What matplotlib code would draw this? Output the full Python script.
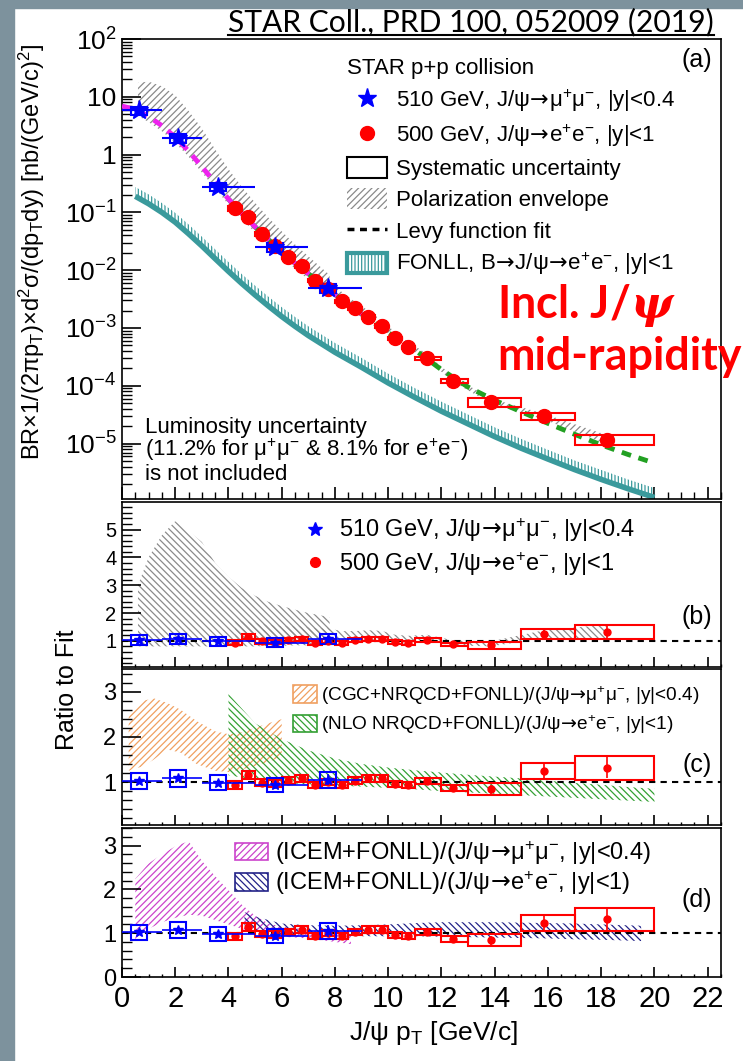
import numpy as np
import matplotlib
matplotlib.use('Agg')
import matplotlib.pyplot as plt
from matplotlib.patches import Patch, Rectangle
from matplotlib.lines import Line2D
from matplotlib.ticker import FixedLocator, FuncFormatter, MultipleLocator, LogLocator, NullFormatter

plt.rcParams['font.family'] = ['Liberation Sans', 'DejaVu Sans']
plt.rcParams['mathtext.fontset'] = 'custom'
plt.rcParams['mathtext.rm'] = 'Liberation Sans'
plt.rcParams['mathtext.it'] = 'Liberation Sans:italic'
plt.rcParams['mathtext.bf'] = 'Liberation Sans:bold'
plt.rcParams['mathtext.sf'] = 'DejaVu Sans'
try:
    plt.rcParams['mathtext.bfit'] = 'DejaVu Serif:italic:bold'
except Exception:
    pass
plt.rcParams['hatch.linewidth'] = 0.9

# ---------------- data ----------------
# Levy fit
fit_pt = [0, 0.5, 1, 1.5, 2, 2.5, 3, 3.5, 4, 4.5, 5, 5.5, 6, 6.5, 7, 7.5, 8, 8.5, 9, 9.5,
          10, 10.5, 11, 11.5, 12, 13, 14, 15, 16, 17, 18, 19, 20]
fit_val = [6.92, 6.03, 4.57, 3.16, 2.0, 1.15, 0.617, 0.324, 0.17, 0.0955, 0.0562, 0.0339,
           0.0209, 0.0132, 0.0087, 0.00575, 0.0038, 0.00257, 0.00174, 0.0012, 8.3e-4, 5.9e-4,
           4.17e-4, 2.82e-4, 1.9e-4, 9.5e-5, 5.6e-5, 3.55e-5, 2.24e-5, 1.45e-5, 9.5e-6, 6.5e-6, 4.6e-6]

# FONLL B -> J/psi band
fonll_pt = [0.5, 1, 1.5, 2, 2.5, 3, 3.5, 4, 4.5, 5, 5.5, 6, 6.5, 7, 8, 9, 10, 11, 12, 13, 14,
            15, 16, 17, 18, 19, 20]
fonll_lo = [0.19, 0.141, 0.1, 0.0676, 0.0427, 0.0263, 0.0158, 0.00955, 0.00589, 0.00372, 0.0024,
            0.00158, 0.00107, 7.4e-4, 3.8e-4, 2.09e-4, 1.12e-4, 6.3e-5, 3.63e-5, 2.19e-5, 1.32e-5,
            8.3e-6, 5.4e-6, 3.55e-6, 2.4e-6, 1.66e-6, 1.17e-6]
fonll_hi = [0.275, 0.205, 0.145, 0.098, 0.062, 0.038, 0.0229, 0.01385, 0.00854, 0.0054, 0.00348,
            0.00229, 0.00155, 1.07e-3, 5.5e-4, 3.03e-4, 1.62e-4, 9.1e-5, 5.3e-5, 3.18e-5, 1.91e-5,
            1.2e-5, 7.8e-6, 5.1e-6, 3.5e-6, 2.4e-6, 1.7e-6]

# 510 GeV mu+mu- points
blue_x = [0.65, 2.1, 3.6, 5.75, 7.75]
blue_xlo = [0, 1.5, 3, 5, 7]
blue_xhi = [1.5, 3, 5, 7, 9]
blue_val = [5.8, 1.92, 0.28, 0.025, 0.0049]
blue_stat = [0.05, 0.05, 0.07, 0.10, 0.12]
blue_sys = [0.17, 0.17, 0.17, 0.17, 0.17]
blue_ratio = [1.02, 1.08, 0.98, 0.93, 1.05]

# 500 GeV e+e- points
red_xlo = [4, 4.5, 5, 5.5, 6, 6.5, 7, 7.5, 8, 8.5, 9, 9.5, 10, 10.5, 11, 12, 13, 15, 17]
red_xhi = [4.5, 5, 5.5, 6, 6.5, 7, 7.5, 8, 8.5, 9, 9.5, 10, 10.5, 11, 12, 13, 15, 17, 20]
red_x = [4.25, 4.75, 5.25, 5.75, 6.25, 6.75, 7.25, 7.75, 8.25, 8.75, 9.25, 9.75, 10.25, 10.75,
         11.45, 12.45, 13.85, 15.85, 18.2]
red_val = [0.118, 0.0843, 0.0428, 0.0258, 0.0171, 0.0116, 0.0066, 0.00468, 0.0029, 0.00218,
           0.00156, 0.00108, 6.65e-4, 4.6e-4, 2.98e-4, 1.22e-4, 5.2e-5, 2.95e-5, 1.17e-5]
red_stat = [0.03, 0.03, 0.03, 0.03, 0.03, 0.03, 0.04, 0.04, 0.04, 0.05, 0.05, 0.06, 0.06, 0.07,
            0.07, 0.09, 0.12, 0.15, 0.18]
red_sys = [0.09, 0.08, 0.08, 0.08, 0.07, 0.07, 0.07, 0.07, 0.07, 0.07, 0.07, 0.07, 0.07, 0.07,
           0.065, 0.08, 0.16, 0.145, 0.20]
red_ratio = [0.93, 1.15, 0.98, 0.97, 1.03, 1.08, 0.93, 1.0, 0.93, 1.03, 1.08, 1.08, 0.95, 0.93,
             1.02, 0.87, 0.84, 1.24, 1.32]

# polarization envelope (panel a)
pol_mu_pt = [0.6, 1, 1.5, 2, 2.5, 3, 3.5, 4, 4.5, 5, 5.5, 6, 6.5, 7, 7.8]
pol_mu_hi = [17.5, 18.3, 15.2, 10.6, 5.7, 2.84, 1.23, 0.561, 0.277, 0.147, 0.081, 0.047, 0.0279,
             0.0174, 0.00826]
pol_mu_lo = [4.67, 3.66, 2.53, 1.6, 0.92, 0.49, 0.26, 0.136, 0.0764, 0.045, 0.0271, 0.0167,
             0.0106, 0.00696, 0.00358]
pol_e_pt = [4.25, 4.75, 5.25, 5.75, 6.25, 6.75, 7.25, 7.75, 8.25, 8.75, 9.25, 9.75, 10.25, 10.75,
            11.45, 12.45, 13.85, 15.85, 18.2]
pol_e_hi = [0.230, 0.127, 0.0706, 0.0412, 0.0252, 0.0163, 0.01026, 0.00678, 0.00422, 0.00285,
            0.0020, 0.00136, 8.53e-4, 5.85e-4, 3.56e-4, 1.43e-4, 6.04e-5, 3.28e-5, 1.41e-5]
pol_e_lo = [0.120, 0.0759, 0.042, 0.0245, 0.0161, 0.0107, 0.00637, 0.00444, 0.00281, 0.00205,
            0.00145, 0.001, 6.44e-4, 4.46e-4, 2.86e-4, 1.17e-4, 4.93e-5, 2.61e-5, 9.8e-6]

# polarization envelope as ratio (panel b)
rpol_mu_hi = [3.0, 4.0, 4.8, 5.3, 4.95, 4.55, 3.8, 3.3, 2.9, 2.62, 2.4, 2.25, 2.12, 2.0, 1.85]
rpol_mu_lo = [0.8, 0.8, 0.8, 0.8, 0.8, 0.8, 0.8, 0.8, 0.8, 0.8, 0.82, 0.82, 0.84, 0.84, 0.85]
rpol_e_hi = [1.72, 1.68, 1.6, 1.55, 1.52, 1.52, 1.45, 1.45, 1.35, 1.35, 1.38, 1.36, 1.22, 1.18,
             1.22, 1.02, 0.98, 1.38, 1.58]
rpol_e_lo = [0.9, 1.0, 0.95, 0.92, 0.97, 1.0, 0.9, 0.95, 0.9, 0.97, 1.0, 1.0, 0.92, 0.9, 0.98,
             0.84, 0.8, 1.1, 1.1]

# panel c models
cgc_pt = [0.25, 0.5, 0.8, 1.2, 1.7, 2.2, 2.8, 3.5, 4.0, 4.5, 5.0, 5.5, 6.0]
cgc_hi = [2.47, 2.65, 2.8, 2.85, 2.75, 2.6, 2.35, 2.12, 2.06, 2.1, 2.2, 2.3, 2.39]
cgc_lo = [1.25, 1.3, 1.35, 1.5, 1.72, 1.65, 1.4, 1.25, 1.22, 1.28, 1.35, 1.45, 1.55]
nlo_pt = [4.0, 5, 6, 7, 8, 9, 10, 11, 12, 13, 14, 15, 16, 17, 18, 19, 20]
nlo_hi = [2.95, 2.3, 1.95, 1.7, 1.52, 1.4, 1.32, 1.26, 1.21, 1.16, 1.12, 1.08, 1.03, 0.98, 0.94,
          0.89, 0.85]
nlo_lo = [1.15, 1.05, 0.98, 0.95, 0.92, 0.9, 0.87, 0.84, 0.8, 0.77, 0.74, 0.71, 0.68, 0.65, 0.62,
          0.59, 0.56]

# panel d models
icem_mu_pt = [0.5, 1.0, 1.5, 2.0, 2.5, 3.0, 3.5, 4.0, 4.5, 5.0, 5.5, 6.0, 7.0, 8.0, 8.6]
icem_mu_hi = [2.24, 2.59, 2.8, 2.98, 3.1, 2.65, 2.3, 1.98, 1.65, 1.4, 1.22, 1.15, 1.08, 1.02, 1.0]
icem_mu_lo = [0.85, 1.1, 1.25, 1.35, 1.42, 1.4, 1.3, 1.2, 1.1, 1.0, 0.95, 0.92, 0.88, 0.8, 0.75]
icem_e_pt = [4.6, 5, 6, 7, 8, 9, 10, 11, 12, 13, 14, 15, 16, 17, 18, 19, 19.5]
icem_e_hi = [1.48, 1.38, 1.22, 1.18, 1.17, 1.18, 1.2, 1.23, 1.25, 1.25, 1.25, 1.24, 1.23, 1.22,
             1.2, 1.18, 1.17]
icem_e_lo = [1.12, 1.05, 0.98, 0.95, 0.94, 0.93, 0.93, 0.93, 0.92, 0.91, 0.9, 0.89, 0.88, 0.86,
             0.85, 0.83, 0.82]

x_ticks = [0, 2, 4, 6, 8, 10, 12, 14, 16, 18, 20, 22]

# ---------------- styles ----------------
BLUE = '#0000ff'
RED = '#ff0000'
TEAL = '#3a9a9c'
GREY = '#8a8a8a'
MAG = '#ee22ee'
GREEN = '#22a022'
ORANGE = '#f0a060'
HGREEN = '#33a033'
HMAG = '#cc44cc'
NAVY = '#222288'
ARR = r'$\!\mathsf{\rightarrow}\!$'

W, H = 743, 1061
fig = plt.figure(figsize=(W / 100, H / 100), dpi=100)
fig.patches.append(Rectangle((0, 0), 14 / W, 1, transform=fig.transFigure,
                             color='#7d929d', zorder=-10))
fig.patches.append(Rectangle((0, 1 - 8 / H), 1, 8 / H, transform=fig.transFigure,
                             color='#7d929d', zorder=-10))


def rect(l, t, r, b):
    return [l / W, 1 - b / H, (r - l) / W, (b - t) / H]


axA = fig.add_axes(rect(122, 39, 721, 499))
axB = fig.add_axes(rect(122, 502, 721, 667))
axC = fig.add_axes(rect(122, 669, 721, 825))
axD = fig.add_axes(rect(122, 828, 721, 977))

a = lambda v: np.asarray(v, dtype=float)

# ---------------- panel a ----------------
axA.set_yscale('log')
axA.fill_between(pol_mu_pt, pol_mu_lo, pol_mu_hi, facecolor='none', edgecolor=GREY,
                 hatch='/////', lw=0, zorder=1)
axA.fill_between(pol_e_pt, pol_e_lo, pol_e_hi, facecolor='none', edgecolor=GREY,
                 hatch='/////', lw=0, zorder=1)
axA.fill_between(fonll_pt, fonll_lo, fonll_hi, facecolor='none', edgecolor=TEAL,
                 hatch='|||||', lw=0, zorder=2)
axA.plot(fonll_pt, fonll_lo, color=TEAL, lw=4, zorder=2, solid_capstyle='butt')

fp = a(fit_pt)
fv = a(fit_val)
axA.plot(fp[fp >= 4], fv[fp >= 4], color=GREEN, lw=3.5, ls=(0, (2.0, 1.6)), zorder=3)
axA.plot(fp[fp <= 9], fv[fp <= 9], color=MAG, lw=3.5, ls=(0, (2.0, 1.6)), zorder=3.5)

rv, rs = a(red_val), a(red_sys)
axA.bar(red_xlo, 2 * rv * rs, bottom=rv * (1 - rs), width=a(red_xhi) - a(red_xlo),
        align='edge', fill=False, edgecolor=RED, lw=1.5, zorder=4)
bv, bs = a(blue_val), a(blue_sys)
axA.bar(blue_x, 2 * bv * bs, bottom=bv * (1 - bs), width=0.6, align='center',
        fill=False, edgecolor=BLUE, lw=1.5, zorder=4)
axA.errorbar(red_x, red_val, yerr=rv * a(red_stat), fmt='o', color=RED, ms=10, lw=1.5,
             capsize=0, zorder=5)
bx = a(blue_x)
axA.errorbar(blue_x, blue_val, xerr=[bx - a(blue_xlo), a(blue_xhi) - bx], yerr=bv * a(blue_stat),
             fmt='*', color=BLUE, ms=14, lw=1.5, capsize=0, zorder=6)

axA.set_xlim(0, 22.5)
axA.set_ylim(1.1e-6, 100)


def logfmt(v, pos):
    e = int(round(np.log10(v)))
    if e == 0:
        return '1'
    if e == 1:
        return '10'
    return r'$10^{%d}$' % e


axA.yaxis.set_major_locator(LogLocator(base=10, numticks=20))
axA.yaxis.set_minor_locator(LogLocator(base=10, subs=np.arange(2, 10), numticks=20))
axA.yaxis.set_major_formatter(FuncFormatter(logfmt))
axA.yaxis.set_minor_formatter(NullFormatter())
axA.tick_params(axis='y', which='major', direction='in', length=14, width=1.2, labelsize=19, pad=4)
axA.tick_params(axis='y', which='minor', direction='in', length=7, width=1.0)

handles = [Line2D([], [], marker='*', ls='none', color=BLUE, ms=14),
           Line2D([], [], marker='o', ls='none', color=RED, ms=10),
           Patch(facecolor='none', edgecolor='black', lw=1.5),
           Patch(facecolor='none', edgecolor=GREY, hatch='/////', lw=0),
           Line2D([], [], color='black', lw=2.5, ls=(0, (2.0, 1.6))),
           Patch(facecolor='none', edgecolor=TEAL, hatch='|||||', lw=3)]
labels = [r'510 GeV, J/ψ' + ARR + r'μ$^{+}$μ$^{-}$, |y|<0.4',
          r'500 GeV, J/ψ' + ARR + r'e$^{+}$e$^{-}$, |y|<1',
          'Systematic uncertainty',
          'Polarization envelope',
          'Levy function fit',
          r'FONLL, B' + ARR + r'J/ψ' + ARR + r'e$^{+}$e$^{-}$, |y|<1']
legA = axA.legend(handles, labels, loc='upper left', bbox_to_anchor=(0.3756, 0.959),
                  frameon=False, fontsize=16, title='STAR p+p collision', title_fontsize=16,
                  alignment='left', handlelength=1.8, handleheight=1.04, handletextpad=0.4,
                  labelspacing=0.38, borderpad=0, borderaxespad=0)

axA.text(0.96, 0.955, '(a)', transform=axA.transAxes, fontsize=18, ha='center', va='center')
axA.text((145 - 122) / 599, (499 - 433) / 460, 'Luminosity uncertainty', transform=axA.transAxes,
         fontsize=16, ha='left', va='baseline')
axA.text((145 - 122) / 599, (499 - 456) / 460, r'(11.2% for μ$^{+}$μ$^{-}$ & 8.1% for e$^{+}$e$^{-}$)',
         transform=axA.transAxes, fontsize=16, ha='left', va='baseline')
axA.text((145 - 122) / 599, (499 - 480) / 460, 'is not included', transform=axA.transAxes,
         fontsize=16, ha='left', va='baseline')

# ---------------- ratio panels ----------------
rr = a(red_ratio)
br = a(blue_ratio)


def ratio_points(ax, ms_star=7, ms_circ=5):
    ax.bar(red_xlo, 2 * rr * rs, bottom=rr * (1 - rs), width=a(red_xhi) - a(red_xlo),
           align='edge', fill=False, edgecolor=RED, lw=1.5, zorder=4)
    ax.bar(blue_x, 2 * br * bs, bottom=br * (1 - bs), width=0.6, align='center',
           fill=False, edgecolor=BLUE, lw=1.5, zorder=4)
    ax.errorbar(red_x, red_ratio, yerr=rr * a(red_stat), fmt='o', color=RED, ms=ms_circ, lw=1.2,
                capsize=0, zorder=5)
    ax.errorbar(blue_x, blue_ratio, xerr=[bx - a(blue_xlo), a(blue_xhi) - bx],
                yerr=br * a(blue_stat), fmt='*', color=BLUE, ms=ms_star, lw=1.2, capsize=0, zorder=6)
    ax.axhline(1, color='black', lw=1.5, ls=(0, (3, 2.5)), zorder=3)


# panel b
axB.fill_between(pol_mu_pt, rpol_mu_lo, rpol_mu_hi, facecolor='none', edgecolor=GREY,
                 hatch='\\' * 5, lw=0, zorder=1)
axB.fill_between(pol_e_pt, rpol_e_lo, rpol_e_hi, facecolor='none', edgecolor=GREY,
                 hatch='\\' * 5, lw=0, zorder=1)
ratio_points(axB)
axB.set_ylim(0.06, 5.99)
axB.yaxis.set_major_locator(FixedLocator([1, 2, 3, 4, 5]))
legB = axB.legend([Line2D([], [], marker='*', ls='none', color=BLUE, ms=10),
                   Line2D([], [], marker='o', ls='none', color=RED, ms=7)],
                  [r'510 GeV, J/ψ' + ARR + r'μ$^{+}$μ$^{-}$, |y|<0.4',
                   r'500 GeV, J/ψ' + ARR + r'e$^{+}$e$^{-}$, |y|<1'],
                  loc='upper left', bbox_to_anchor=(0.302, 0.915), frameon=False, fontsize=17,
                  handlelength=1.0, handletextpad=0.55, labelspacing=0.25, borderpad=0,
                  borderaxespad=0)
axB.text(0.96, (667 - 617) / 165, '(b)', transform=axB.transAxes, fontsize=18, ha='center',
         va='center')

# panel c
axC.fill_between(cgc_pt, cgc_lo, cgc_hi, facecolor='none', edgecolor=ORANGE,
                 hatch='/////', lw=0, zorder=1)
axC.fill_between(nlo_pt, nlo_lo, nlo_hi, facecolor='none', edgecolor=HGREEN,
                 hatch='\\' * 5, lw=0, zorder=1)
ratio_points(axC)
axC.set_ylim(0.05, 3.5)
axC.yaxis.set_major_locator(FixedLocator([1, 2, 3]))
axC.legend([Patch(facecolor='none', edgecolor=ORANGE, hatch='/////', lw=1.2),
            Patch(facecolor='none', edgecolor=HGREEN, hatch='\\' * 5, lw=1.2)],
           [r'(CGC+NRQCD+FONLL)/(J/ψ' + ARR + r'μ$^{+}$μ$^{-}$, |y|<0.4)',
            r'(NLO NRQCD+FONLL)/(J/ψ' + ARR + r'e$^{+}$e$^{-}$, |y|<1)'],
           loc='upper left', bbox_to_anchor=(0.2855, 0.904), frameon=False, fontsize=13.7,
           handlelength=1.26, handleheight=1.05, handletextpad=0.2, labelspacing=0.35,
           borderpad=0, borderaxespad=0)
axC.text(0.96, (825 - 765) / 156, '(c)', transform=axC.transAxes, fontsize=18, ha='center',
         va='center')

# panel d
axD.fill_between(icem_mu_pt, icem_mu_lo, icem_mu_hi, facecolor='none', edgecolor=HMAG,
                 hatch='/////', lw=0, zorder=1)
axD.fill_between(icem_e_pt, icem_e_lo, icem_e_hi, facecolor='none', edgecolor=NAVY,
                 hatch='\\' * 5, lw=0, zorder=1)
ratio_points(axD)
axD.set_ylim(0, 3.4)
axD.yaxis.set_major_locator(FixedLocator([0, 1, 2, 3]))
axD.legend([Patch(facecolor='none', edgecolor=HMAG, hatch='/////', lw=1.2),
            Patch(facecolor='none', edgecolor=NAVY, hatch='\\' * 5, lw=1.2)],
           [r'(ICEM+FONLL)/(J/ψ' + ARR + r'μ$^{+}$μ$^{-}$, |y|<0.4)',
            r'(ICEM+FONLL)/(J/ψ' + ARR + r'e$^{+}$e$^{-}$, |y|<1)'],
           loc='upper left', bbox_to_anchor=(0.1886, 0.926), frameon=False, fontsize=17,
           handlelength=1.4, handleheight=0.76, handletextpad=0.3, labelspacing=0.1,
           borderpad=0, borderaxespad=0)
axD.text(0.96, (977 - 900) / 149, '(d)', transform=axD.transAxes, fontsize=18, ha='center',
         va='center')

for ax in (axB, axC, axD):
    ax.yaxis.set_minor_locator(MultipleLocator(0.2))
    ax.tick_params(axis='y', which='major', direction='in', length=14, width=1.2, labelsize=17,
                   pad=4)
    ax.tick_params(axis='y', which='minor', direction='in', length=7, width=1.0)
axB.tick_params(axis='y', which='major', labelsize=14.5)

for ax in (axA, axB, axC, axD):
    ax.set_xlim(0, 22.5)
    ax.xaxis.set_major_locator(FixedLocator(x_ticks))
    ax.xaxis.set_minor_locator(MultipleLocator(0.5))
    for s in ax.spines.values():
        s.set_linewidth(1.2)
    ax.tick_params(axis='both', which='both', right=False, top=False)

axA.tick_params(axis='x', which='major', direction='in', length=9, width=1.2, labelbottom=False)
axA.tick_params(axis='x', which='minor', direction='in', length=5, width=1.0)
for ax in (axB, axC):
    ax.tick_params(axis='x', which='major', direction='in', length=7, width=1.2, labelbottom=False)
    ax.tick_params(axis='x', which='minor', direction='in', length=2.5, width=1.0)
axD.tick_params(axis='x', which='major', direction='in', length=7, width=1.2, labelsize=21, pad=6)
axD.tick_params(axis='x', which='minor', direction='in', length=2.5, width=1.0)

# axis titles
fig.text(433 / W, 1 - 1033 / H, r'J/ψ p$_{\rm T}$ [GeV/c]', fontsize=19, ha='center', va='center')
fig.text(32 / W, 1 - 252 / H,
         r'BR×1/(2πp$_{\rm T}$)×d$^{2}$σ/(dp$_{\rm T}$dy) [nb/(GeV/c)$^{2}$]',
         fontsize=17, rotation=90, ha='center', va='center')
fig.text(67 / W, 1 - 690 / H, 'Ratio to Fit', fontsize=18, rotation=90, ha='center', va='center')

# title and annotation
title = fig.text(228 / W, 1 - 31 / H, 'STAR Coll., PRD 100, 052009 (2019)', family='Lato',
                 fontsize=21, ha='left', va='baseline')
t1 = fig.text(497 / W, 1 - 318 / H, r'Incl. J/$\mathbfit{\psi}$', family='Lato', weight='bold',
              color=RED, fontsize=27, ha='left', va='baseline')
t2 = fig.text(497 / W, 1 - 370 / H, 'mid-rapidity', family='Lato', weight='bold',
              color=RED, fontsize=27, ha='left', va='baseline')

try:
    fig.canvas.draw()
except Exception:
    t1.set_text(r'Incl. J/$\psi$')
    fig.canvas.draw()
r = fig.canvas.get_renderer()
bb = title.get_window_extent(r)
title.set_fontsize(21 * 484 / bb.width)
bb = t2.get_window_extent(r)
s = 27 * 244 / bb.width
t2.set_fontsize(s)
t1.set_fontsize(s)
fig.canvas.draw()
bb = title.get_window_extent(r)
fig.add_artist(Line2D([bb.x0 / W, bb.x1 / W], [1 - 35 / H, 1 - 35 / H], transform=fig.transFigure,
                      color='black', lw=1.5))

fig.savefig('out.png', dpi=100)
